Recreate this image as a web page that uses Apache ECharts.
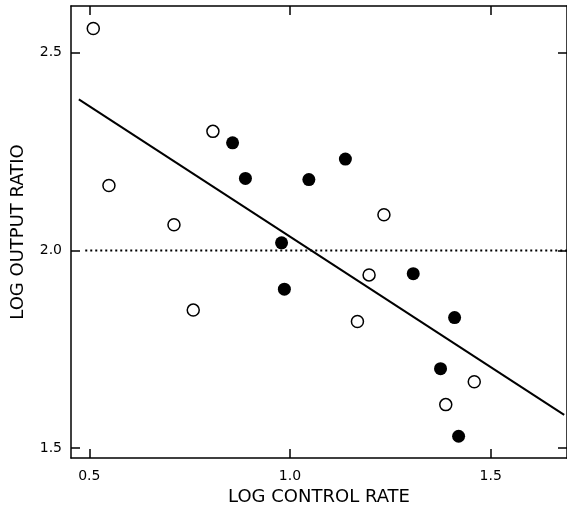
<!DOCTYPE html>
<html>
<head>
<meta charset="utf-8">
<script src="https://cdn.jsdelivr.net/npm/echarts@6/dist/echarts.min.js"></script>
<style>
  html, body { margin: 0; padding: 0; background: #fff; }
  #chart { width: 567px; height: 506px; }
</style>
</head>
<body>
<div id="chart"></div>
<script>
'use strict';

// log control rate / log output ratio
var openX = [0.51, 0.549, 0.711, 0.759, 0.808, 1.234, 1.197, 1.168, 1.459, 1.388];
var openY = [2.561, 2.164, 2.065, 1.849, 2.301, 2.090, 1.938, 1.820, 1.668, 1.610];

var filledX = [0.857, 0.889, 1.047, 1.138, 0.979, 0.986, 1.307, 1.410, 1.375, 1.420];
var filledY = [2.272, 2.182, 2.179, 2.231, 2.019, 1.902, 1.941, 1.830, 1.701, 1.530];

var fitX = [0.474, 1.683];
var fitY = [2.382, 1.584];

var refX = [0.49, 1.69];
var refY = [2.0, 2.0];

var xTicks = [0.5, 1.0, 1.5];
var yTicks = [1.5, 2.0, 2.5];

function pairs(xs, ys) {
  return xs.map(function (x, i) { return [x, ys[i]]; });
}

var chart = echarts.init(document.getElementById('chart'));
var font = 'DejaVu Sans';

var xBase = {
  type: 'value',
  min: 0.4545,
  max: 1.69,
  splitLine: {show: false},
  axisLine: {show: true, onZero: false, lineStyle: {color: '#000', width: 1.5}},
  axisTick: {show: true, inside: true, length: 9, customValues: xTicks, lineStyle: {color: '#000', width: 1.5}}
};
var yBase = {
  type: 'value',
  min: 1.475,
  max: 2.618,
  splitLine: {show: false},
  axisLine: {show: true, onZero: false, lineStyle: {color: '#000', width: 1.5}},
  axisTick: {show: true, inside: true, length: 9, customValues: yTicks, lineStyle: {color: '#000', width: 1.5}}
};

var option = {
  animation: false,
  backgroundColor: '#fff',
  grid: {left: 71, top: 6, right: 0, bottom: 48, outerBoundsMode: 'none', containLabel: false},
  xAxis: [
    Object.assign({}, xBase, {
      position: 'bottom',
      name: 'LOG CONTROL RATE',
      nameLocation: 'middle',
      nameGap: 27,
      nameTextStyle: {fontFamily: font, fontSize: 18, color: '#000'},
      axisLabel: {
        customValues: xTicks, margin: 11,
        fontFamily: font, fontSize: 14, color: '#000',
        formatter: function (v) { return v.toFixed(1); }
      }
    }),
    Object.assign({}, xBase, {position: 'top', axisLabel: {show: false}})
  ],
  yAxis: [
    Object.assign({}, yBase, {
      position: 'left',
      name: 'LOG OUTPUT RATIO',
      nameLocation: 'middle',
      nameGap: 44,
      nameTextStyle: {fontFamily: font, fontSize: 18, color: '#000'},
      axisLabel: {
        customValues: yTicks, margin: 9,
        fontFamily: font, fontSize: 14, color: '#000',
        formatter: function (v) { return v.toFixed(1); }
      }
    }),
    Object.assign({}, yBase, {position: 'right', axisLabel: {show: false}})
  ],
  series: [
    {
      type: 'line',
      data: pairs(refX, refY),
      symbol: 'none',
      lineStyle: {color: '#000', width: 2, type: [2, 3]},
      z: 1
    },
    {
      type: 'line',
      data: pairs(fitX, fitY),
      symbol: 'none',
      lineStyle: {color: '#000', width: 2},
      z: 2
    },
    {
      type: 'scatter',
      data: pairs(openX, openY),
      symbol: 'circle',
      symbolSize: 12,
      itemStyle: {color: '#fff', borderColor: '#000', borderWidth: 1.5, opacity: 1},
      z: 3
    },
    {
      type: 'scatter',
      data: pairs(filledX, filledY),
      symbol: 'circle',
      symbolSize: 13,
      itemStyle: {color: '#000', opacity: 1},
      z: 3
    }
  ]
};

chart.setOption(option);
</script>
</body>
</html>
